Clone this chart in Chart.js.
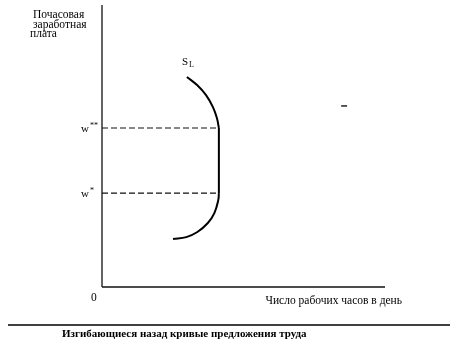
<!DOCTYPE html>
<html>
<head>
<meta charset="utf-8">
<script src="https://cdn.jsdelivr.net/npm/chart.js@4"></script>
<style>
  body { margin: 0; background: #fff; }
  #wrap { width: 456px; height: 343px; }
</style>
</head>
<body>
<div id="wrap"><canvas id="laborChart" width="456" height="343"></canvas></div>
<script>
// кривая предложения труда S_L (часы, ставка)
var upperHours = [3.00, 3.36, 3.67, 3.92, 4.06, 4.13];
var upperWage  = [7.45, 7.16, 6.81, 6.38, 5.99, 5.64];
var lowerHours = [4.13, 4.11, 3.97, 3.74, 3.37, 2.98, 2.51];
var lowerWage  = [3.33, 3.09, 2.62, 2.27, 1.95, 1.77, 1.70];
var wStar2 = 5.64;   // w**
var wStar = 3.33;    // w*
var kinkHours = 4.13;
var axisMax = 10;

function pts(xs, ys) {
    return xs.map(function (x, i) { return { x: x, y: ys[i] }; });
}

var serif = '"Liberation Serif", "DejaVu Serif", serif';

var labelsPlugin = {
    id: 'labels',
    afterDraw: function (chart) {
        var ctx = chart.ctx;
        var xs = chart.scales.x, ys = chart.scales.y;
        var x0 = xs.getPixelForValue(0), y0 = ys.getPixelForValue(0);
        ctx.save();
        ctx.fillStyle = '#000';
        ctx.textBaseline = 'middle';

        // подпись оси Y
        ctx.font = '11.5px ' + serif;
        ctx.textAlign = 'left';
        ctx.fillText('Почасовая', x0 - 69, 15);
        ctx.fillText('заработная', x0 - 69, 25);
        ctx.fillText('плата', x0 - 72, 34);

        // подпись оси X и ноль
        ctx.fillText('0', x0 - 11, y0 + 11);
        ctx.textAlign = 'right';
        ctx.fillText('Число рабочих часов в день', xs.getPixelForValue(axisMax) + 17, y0 + 14);

        // w** и w*
        ctx.font = '11px ' + serif;
        ctx.textAlign = 'right';
        ctx.fillText('w', x0 - 13, ys.getPixelForValue(wStar2) + 1);
        ctx.fillText('w', x0 - 13, ys.getPixelForValue(wStar) + 1);
        ctx.font = '8px ' + serif;
        ctx.textAlign = 'left';
        ctx.fillText('**', x0 - 12, ys.getPixelForValue(wStar2) - 2);
        ctx.fillText('*', x0 - 12, ys.getPixelForValue(wStar) - 2);

        // S_L
        var sx = xs.getPixelForValue(2.83), sy = ys.getPixelForValue(7.98);
        ctx.font = '11px ' + serif;
        ctx.fillText('S', sx, sy);
        ctx.font = '8px ' + serif;
        ctx.fillText('L', sx + 7, sy + 3);

        // нижняя линия и подпись рисунка
        ctx.strokeStyle = '#000';
        ctx.lineWidth = 1.3;
        ctx.beginPath();
        ctx.moveTo(8, 325);
        ctx.lineTo(450, 325);
        ctx.stroke();
        ctx.font = 'bold 11px ' + serif;
        ctx.textAlign = 'left';
        ctx.fillText('Изгибающиеся назад кривые предложения труда', 62, 334);
        ctx.restore();
    }
};

var ctxL = document.getElementById('laborChart');
var laborChart = new Chart(ctxL, {
    type: 'scatter',
    data: {
        datasets: [
            {   // ось Y
                data: pts([0, 0], [0, axisMax]),
                borderColor: '#111', borderWidth: 1.3
            },
            {   // ось X
                data: pts([0, axisMax], [0, 0]),
                borderColor: '#111', borderWidth: 1.3
            },
            {   // w**
                data: pts([0, kinkHours], [wStar2, wStar2]),
                borderColor: '#111', borderWidth: 1.1, borderDash: [6, 3]
            },
            {   // w*
                data: pts([0, kinkHours], [wStar, wStar]),
                borderColor: '#111', borderWidth: 1.1, borderDash: [6, 3]
            },
            {   // верхняя дуга
                data: pts(upperHours, upperWage),
                borderColor: '#000', borderWidth: 2, tension: 0.4
            },
            {   // вертикальный участок
                data: pts([kinkHours, kinkHours], [wStar2, wStar]),
                borderColor: '#000', borderWidth: 2
            },
            {   // нижняя дуга
                data: pts(lowerHours, lowerWage),
                borderColor: '#000', borderWidth: 2, tension: 0.4
            },
            {   // черточка справа
                data: pts([8.45, 8.66], [6.42, 6.42]),
                borderColor: '#222', borderWidth: 1.5
            }
        ]
    },
    options: {
        responsive: false,
        animation: false,
        showLine: true,
        clip: false,
        elements: { point: { radius: 0 } },
        layout: { padding: { left: 102, right: 71, top: 5, bottom: 56 } },
        plugins: { legend: { display: false }, tooltip: { enabled: false } },
        scales: {
            x: { type: 'linear', min: 0, max: axisMax, display: false },
            y: { type: 'linear', min: 0, max: axisMax, display: false }
        }
    },
    plugins: [labelsPlugin]
});
</script>
</body>
</html>
